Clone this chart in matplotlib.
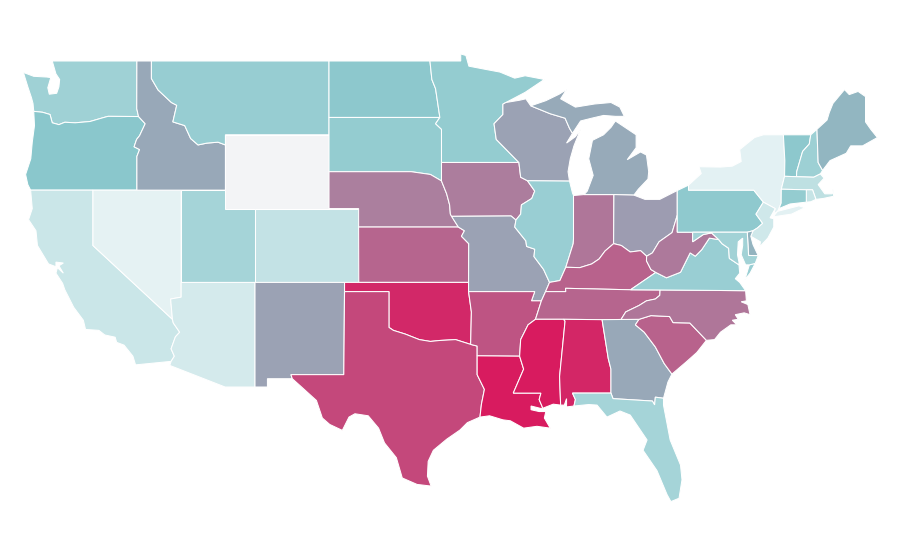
import matplotlib
matplotlib.use("Agg")
import matplotlib.pyplot as plt
from matplotlib.colors import LinearSegmentedColormap, Normalize

# state outlines as (lon, lat), rough hand traced
WA = [(-117.03,49),(-117.04,46.42),(-116.92,45.99),(-118.98,46.0),(-119.3,45.93),(-120.2,45.72),(-121.2,45.65),(-121.9,45.68),(-122.3,45.55),(-122.75,45.65),(-122.9,46.1),(-123.4,46.22),(-124.0,46.27),(-124.05,46.7),(-124.15,47.0),(-124.4,47.6),(-124.7,48.38),(-124.0,48.17),(-123.1,48.13),(-122.85,48.1),(-123.05,47.55),(-122.95,47.2),(-122.45,47.25),(-122.3,47.6),(-122.25,48.0),(-122.5,48.3),(-122.75,49)]
ID = [(-117.03,49),(-116.05,49),(-116.05,48.05),(-115.6,47.43),(-114.7,46.75),(-114.34,46.6),(-114.6,45.7),(-113.8,45.5),(-113.4,44.8),(-112.9,44.45),(-112.3,44.55),(-111.55,44.6),(-111.05,44.45),(-111.05,42),(-114.04,42),(-117.03,42),(-117.03,43.83),(-116.85,44.2),(-117.22,44.35),(-117.05,44.75),(-116.85,44.95),(-116.47,45.6),(-116.92,45.99),(-117.04,46.42)]
MT = [(-116.05,49),(-104.05,49),(-104.05,45),(-111.05,45),(-111.05,44.45),(-111.55,44.6),(-112.3,44.55),(-112.9,44.45),(-113.4,44.8),(-113.8,45.5),(-114.6,45.7),(-114.34,46.6),(-114.7,46.75),(-115.6,47.43),(-116.05,48.05)]
OR = [(-124.21,42),(-120,42),(-117.03,42),(-117.03,43.83),(-116.85,44.2),(-117.22,44.35),(-117.05,44.75),(-116.85,44.95),(-116.47,45.6),(-116.92,45.99),(-118.98,46.0),(-119.3,45.93),(-120.2,45.72),(-121.2,45.65),(-121.9,45.68),(-122.3,45.55),(-122.75,45.65),(-122.9,46.1),(-123.4,46.22),(-124.0,46.27),(-123.95,45.5),(-124.1,44.6),(-124.2,43.7),(-124.55,42.85),(-124.4,42.3)]
CA = [(-124.21,42),(-120,42),(-120,39),(-114.63,35.0),(-114.57,34.8),(-114.14,34.3),(-114.43,34.05),(-114.72,33.4),(-114.5,33.0),(-114.72,32.72),(-117.12,32.53),(-117.3,33.0),(-117.9,33.6),(-118.4,33.75),(-118.5,34.03),(-119.2,34.15),(-119.6,34.4),(-120.5,34.45),(-120.65,34.95),(-121.3,35.65),(-121.9,36.6),(-122.05,36.95),(-122.5,37.5),(-122.4,37.8),(-122.0,37.5),(-122.3,37.9),(-122.0,38.05),(-122.5,38.1),(-122.5,37.85),(-123.0,38.0),(-123.75,39.0),(-123.85,39.8),(-124.35,40.4),(-124.1,41.0)]
NV = [(-120,42),(-114.04,42),(-114.04,36.2),(-114.75,36.1),(-114.63,35.0),(-120,39)]
UT = [(-114.04,42),(-111.05,42),(-111.05,41),(-109.05,41),(-109.05,37),(-114.04,37)]
WY = [(-111.05,45),(-104.05,45),(-104.05,41),(-111.05,41)]
CO = [(-109.05,41),(-102.05,41),(-102.05,37),(-109.05,37)]
AZ = [(-114.04,37),(-109.05,37),(-109.05,31.33),(-111.07,31.33),(-114.81,32.5),(-114.72,32.72),(-114.5,33.0),(-114.72,33.4),(-114.43,34.05),(-114.14,34.3),(-114.57,34.8),(-114.63,35.0),(-114.75,36.1),(-114.04,36.2)]
NM = [(-109.05,37),(-103.0,37),(-103.05,32),(-106.62,32),(-106.53,31.78),(-108.21,31.78),(-108.21,31.33),(-109.05,31.33)]
ND = [(-104.05,49),(-97.23,49),(-97.1,48),(-96.85,47.5),(-96.56,45.94),(-104.05,45.94)]
SD = [(-104.05,45.94),(-96.56,45.94),(-96.85,45.6),(-96.45,45.3),(-96.45,42.5),(-97.2,42.85),(-98.5,43.0),(-104.05,43)]
NE = [(-104.05,43),(-98.5,43),(-97.2,42.85),(-96.45,42.5),(-96.1,41.8),(-95.9,41.2),(-95.85,40.7),(-95.31,40.0),(-102.05,40),(-102.05,41),(-104.05,41)]
KS = [(-102.05,40),(-95.31,40),(-94.9,39.8),(-95.1,39.5),(-94.61,39.1),(-94.62,37),(-102.04,37)]
OK = [(-103.0,37),(-94.62,37),(-94.62,36.5),(-94.43,35.4),(-94.48,33.64),(-95.5,33.9),(-96.6,33.85),(-97.2,33.8),(-97.95,33.9),(-98.9,34.2),(-99.7,34.4),(-100.0,34.56),(-100.0,36.5),(-103.0,36.5)]
TX = [(-103,36.5),(-100,36.5),(-100,34.56),(-99.7,34.4),(-98.9,34.2),(-97.95,33.9),(-97.2,33.8),(-96.6,33.85),(-95.5,33.9),(-94.48,33.64),(-94.04,33.55),(-94.04,32),(-93.55,31.2),(-93.75,30.4),(-93.85,29.7),(-94.7,29.4),(-95.2,29.0),(-96.1,28.5),(-97.0,27.9),(-97.35,27.3),(-97.4,26.5),(-97.15,25.96),(-98.1,26.05),(-99.1,26.4),(-99.5,27.5),(-100.3,28.3),(-100.7,29.1),(-101.4,29.77),(-102.3,29.88),(-102.7,29.7),(-103.15,28.98),(-104.0,29.3),(-104.5,29.65),(-104.9,30.6),(-106.0,31.4),(-106.53,31.78),(-106.62,32),(-103.05,32)]
MN = [(-97.23,49),(-95.15,49),(-95.15,49.38),(-94.8,49.3),(-94.6,48.72),(-93.5,48.55),(-92.5,48.4),(-91.5,48.07),(-90.8,48.2),(-89.5,48.0),(-90.8,47.3),(-92.1,46.75),(-92.3,46.66),(-92.3,46.1),(-92.9,45.6),(-92.75,44.75),(-91.22,43.5),(-96.45,43.5),(-96.45,45.3),(-96.85,45.6),(-96.56,45.94),(-96.85,47.5),(-97.1,48)]
WI = [(-92.1,46.75),(-91.2,46.87),(-90.75,46.95),(-90.42,46.57),(-89.1,46.14),(-88.1,45.9),(-87.8,45.35),(-87.6,45.08),(-88.0,44.55),(-87.4,44.9),(-87.05,45.3),(-87.5,44.4),(-87.75,43.7),(-87.9,43.0),(-87.8,42.49),(-90.64,42.51),(-91.1,42.7),(-91.22,43.5),(-92.75,44.75),(-92.9,45.6),(-92.3,46.1),(-92.3,46.66)]
IA = [(-96.45,43.5),(-91.22,43.5),(-91.1,42.7),(-90.64,42.51),(-90.15,41.95),(-90.35,41.55),(-91.05,41.2),(-91.1,40.7),(-91.42,40.38),(-91.75,40.6),(-95.77,40.58),(-95.85,40.7),(-95.9,41.2),(-96.1,41.8),(-96.45,42.5)]
MO = [(-95.77,40.58),(-91.75,40.6),(-91.42,40.38),(-91.5,40.0),(-90.75,39.25),(-90.7,38.95),(-90.15,38.8),(-90.2,38.4),(-89.55,37.7),(-89.15,37.0),(-89.42,36.5),(-89.7,36.0),(-90.37,36.0),(-90.15,36.5),(-94.62,36.5),(-94.62,37),(-94.61,39.1),(-95.1,39.5),(-94.9,39.8),(-95.31,40)]
AR = [(-94.62,36.5),(-90.15,36.5),(-90.37,36.0),(-89.7,36.0),(-90.1,35.0),(-90.6,34.7),(-91.1,33.9),(-91.17,33.0),(-94.04,33.02),(-94.04,33.55),(-94.48,33.64),(-94.43,35.4)]
LA = [(-94.04,33.02),(-91.17,33.0),(-90.9,32.3),(-91.6,31.0),(-89.73,31.0),(-89.85,30.65),(-89.6,30.18),(-89.75,30.17),(-90.4,30.3),(-90.4,30.1),(-89.85,30.0),(-89.4,30.0),(-89.5,29.65),(-89.1,29.1),(-90.0,29.2),(-90.9,29.1),(-91.8,29.5),(-92.3,29.55),(-93.2,29.77),(-93.85,29.7),(-93.75,30.4),(-93.55,31.2),(-94.04,32)]
MS = [(-90.1,35.0),(-88.2,35.0),(-88.1,34.9),(-88.47,31.9),(-88.4,30.35),(-88.9,30.4),(-89.6,30.18),(-89.85,30.65),(-89.73,31.0),(-91.6,31.0),(-90.9,32.3),(-91.17,33.0),(-91.1,33.9),(-90.6,34.7)]
AL = [(-88.2,35.0),(-85.6,34.98),(-85.18,32.87),(-85.0,32.3),(-85.0,31.0),(-87.6,31.0),(-87.4,30.65),(-87.5,30.3),(-88.0,30.25),(-88.0,30.7),(-88.15,30.35),(-88.4,30.35),(-88.47,31.9),(-88.1,34.9)]
FL = [(-87.6,31.0),(-85.0,31.0),(-84.86,30.7),(-82.2,30.57),(-82.05,30.36),(-82.0,30.78),(-81.45,30.72),(-81.45,30.35),(-81.0,28.46),(-80.3,27.1),(-80.2,26.3),(-80.4,25.3),(-80.95,25.12),(-81.21,25.5),(-81.89,26.8),(-82.83,27.9),(-82.56,28.46),(-83.7,29.81),(-84.39,30.03),(-85.27,29.7),(-85.94,30.35),(-86.5,30.38),(-87.5,30.3),(-87.4,30.65)]
GA = [(-85.6,34.98),(-83.1,35.0),(-83.35,34.7),(-82.75,34.3),(-82.0,33.5),(-81.4,32.6),(-80.88,32.03),(-81.15,31.6),(-81.45,30.72),(-82.0,30.78),(-82.05,30.36),(-82.2,30.57),(-84.86,30.7),(-85.0,31.0),(-85.0,32.3),(-85.18,32.87)]
SC = [(-83.1,35.0),(-82.3,35.2),(-81.04,35.15),(-80.8,34.82),(-79.67,34.8),(-78.55,33.86),(-79.2,33.2),(-79.9,32.7),(-80.88,32.03),(-81.4,32.6),(-82.0,33.5),(-82.75,34.3),(-83.35,34.7)]
NC = [(-84.32,34.99),(-83.1,35.0),(-82.3,35.2),(-81.04,35.15),(-80.8,34.82),(-79.67,34.8),(-78.55,33.86),(-78.0,33.9),(-77.6,34.3),(-76.9,34.7),(-76.5,34.7),(-76.8,34.95),(-76.4,35.0),(-76.6,35.25),(-76.0,35.35),(-75.6,35.25),(-75.75,35.8),(-76.2,35.95),(-75.85,36.0),(-75.9,36.55),(-81.68,36.59),(-81.7,36.3),(-82.0,36.1),(-82.6,36.0),(-83.1,35.75),(-84.0,35.4)]
VA = [(-83.68,36.6),(-81.68,36.59),(-75.9,36.55),(-76.3,37.0),(-76.6,37.2),(-76.3,37.5),(-76.35,37.95),(-77.0,38.3),(-77.05,38.85),(-77.5,39.1),(-77.72,39.32),(-78.35,39.4),(-78.87,38.77),(-79.3,38.42),(-79.65,38.6),(-80.3,37.55),(-81.25,37.25),(-81.97,37.54)]
VA_SHORE = [(-75.95,37.15),(-75.65,37.95),(-75.25,38.03),(-75.6,37.5)]
WV = [(-81.97,37.54),(-82.3,37.7),(-82.6,38.17),(-82.59,38.42),(-82.2,38.6),(-81.75,39.2),(-80.87,39.7),(-80.52,40.64),(-80.52,39.72),(-79.48,39.72),(-79.48,39.2),(-78.75,39.6),(-78.2,39.68),(-77.72,39.32),(-78.35,39.4),(-78.87,38.77),(-79.3,38.42),(-79.65,38.6),(-80.3,37.55),(-81.25,37.25)]
MD = [(-79.48,39.72),(-75.79,39.72),(-75.7,38.46),(-75.05,38.45),(-75.25,38.03),(-75.65,37.95),(-75.9,37.95),(-76.2,38.5),(-76.1,39.0),(-76.1,39.4),(-76.4,39.2),(-76.45,38.5),(-76.35,38.1),(-76.35,37.95),(-77.0,38.3),(-77.05,38.85),(-77.5,39.1),(-77.72,39.32),(-78.2,39.68),(-78.75,39.6),(-79.48,39.2)]
DE = [(-75.79,39.72),(-75.4,39.8),(-75.55,39.5),(-75.4,39.05),(-75.05,38.45),(-75.7,38.46)]
PA = [(-80.52,41.98),(-80.52,39.72),(-75.79,39.72),(-75.4,39.8),(-75.1,39.95),(-74.75,40.2),(-75.2,40.7),(-74.7,41.35),(-75.35,42.0),(-79.76,42.0),(-79.76,42.27)]
NY = [(-79.76,42.0),(-75.35,42.0),(-74.7,41.35),(-73.9,41.0),(-74.0,40.7),(-73.75,40.85),(-73.65,41.0),(-73.5,41.3),(-73.49,42.05),(-73.27,42.75),(-73.25,43.6),(-73.35,45.0),(-74.7,45.0),(-75.3,44.85),(-76.3,44.2),(-76.2,43.55),(-76.8,43.3),(-77.6,43.25),(-79.05,43.27),(-78.9,42.9),(-79.76,42.27)]
NY_ISLAND = [(-74.0,40.6),(-73.75,40.85),(-72.3,41.15),(-71.9,41.05),(-72.8,40.7),(-73.9,40.57)]
NJ = [(-74.7,41.35),(-75.2,40.7),(-74.75,40.2),(-75.1,39.95),(-75.4,39.8),(-75.55,39.5),(-74.9,39.2),(-74.95,38.93),(-74.4,39.4),(-74.0,40.0),(-74.0,40.45),(-74.25,40.5),(-73.9,41.0)]
CT = [(-73.49,42.05),(-71.8,42.02),(-71.8,41.35),(-72.9,41.25),(-73.65,41.0),(-73.5,41.3)]
RI = [(-71.8,42.02),(-71.38,42.02),(-71.15,41.5),(-71.5,41.37),(-71.8,41.35)]
MA = [(-73.49,42.05),(-73.27,42.75),(-71.3,42.7),(-70.85,42.88),(-70.6,42.65),(-71.0,42.3),(-70.55,41.8),(-70.05,41.8),(-70.0,42.05),(-69.95,41.67),(-70.65,41.55),(-71.15,41.5),(-71.38,42.02),(-71.8,42.02)]
VT = [(-73.35,45.0),(-71.5,45.0),(-71.6,44.5),(-72.05,44.1),(-72.45,43.0),(-72.46,42.73),(-73.27,42.75),(-73.25,43.6)]
NH = [(-71.5,45.0),(-71.08,45.3),(-71.0,43.5),(-70.7,43.07),(-70.85,42.88),(-71.3,42.7),(-72.46,42.73),(-72.45,43.0),(-72.05,44.1),(-71.6,44.5)]
ME = [(-71.08,45.3),(-70.4,45.8),(-70.25,46.2),(-70.0,46.7),(-69.22,47.45),(-68.9,47.18),(-68.3,47.35),(-67.8,47.07),(-67.8,45.7),(-67.45,45.3),(-67.0,44.85),(-68.0,44.4),(-68.8,44.4),(-69.1,44.0),(-70.2,43.6),(-70.7,43.07),(-71.0,43.5)]
MI = [(-86.82,41.76),(-84.8,41.76),(-83.45,41.73),(-83.15,42.05),(-82.5,42.6),(-82.45,43.0),(-82.6,43.9),(-83.0,44.07),(-83.9,43.65),(-83.3,44.3),(-83.3,45.0),(-84.7,45.75),(-85.0,45.4),(-85.5,45.0),(-86.25,44.7),(-86.5,43.7),(-86.2,42.8),(-86.6,41.95)]
MI_UPPER = [(-90.42,46.57),(-89.1,46.14),(-88.1,45.9),(-87.8,45.35),(-87.6,45.08),(-87.05,45.75),(-86.3,45.9),(-85.5,46.05),(-84.7,46.0),(-84.1,46.0),(-84.4,46.5),(-85.0,46.75),(-86.1,46.67),(-87.4,46.5),(-88.4,46.95),(-88.0,47.45),(-88.5,47.2),(-89.4,46.85)]
IN = [(-87.53,41.71),(-86.82,41.76),(-84.8,41.76),(-84.82,39.1),(-85.4,38.7),(-85.8,38.27),(-86.3,38.0),(-87.1,37.8),(-88.05,37.82),(-87.55,39.1),(-87.53,39.35)]
IL = [(-90.64,42.51),(-87.8,42.49),(-87.6,41.85),(-87.53,41.71),(-87.53,39.35),(-87.55,39.1),(-88.05,37.82),(-88.45,37.1),(-89.15,37.0),(-89.55,37.7),(-90.2,38.4),(-90.15,38.8),(-90.7,38.95),(-90.75,39.25),(-91.5,40.0),(-91.42,40.38),(-91.1,40.7),(-91.05,41.2),(-90.35,41.55),(-90.15,41.95)]
OH = [(-84.8,41.76),(-83.45,41.73),(-82.7,41.5),(-81.7,41.5),(-80.52,41.98),(-80.52,40.64),(-80.87,39.7),(-81.75,39.2),(-82.2,38.6),(-82.59,38.42),(-83.0,38.72),(-83.7,38.65),(-84.3,39.0),(-84.82,39.1)]
KY = [(-89.42,36.5),(-89.15,37.0),(-88.45,37.1),(-88.05,37.82),(-87.1,37.8),(-86.3,38.0),(-85.8,38.27),(-85.4,38.7),(-84.82,39.1),(-84.3,39.0),(-83.7,38.65),(-83.0,38.72),(-82.59,38.42),(-82.6,38.17),(-82.3,37.7),(-81.97,37.54),(-83.68,36.6),(-88.07,36.68),(-88.05,36.5)]
TN = [(-89.42,36.5),(-88.05,36.5),(-88.07,36.68),(-83.68,36.6),(-81.68,36.59),(-81.7,36.3),(-82.0,36.1),(-82.6,36.0),(-83.1,35.75),(-84.0,35.4),(-84.32,34.99),(-85.6,34.98),(-88.2,35.0),(-90.1,35.0),(-89.7,36.0)]

state_names = ["WA","OR","CA","NV","ID","MT","WY","UT","CO","AZ","NM","ND","SD","NE","KS","OK","TX",
               "MN","IA","MO","AR","LA","WI","IL","IN","MI","OH","KY","TN","MS","AL","GA","FL","SC",
               "NC","VA","WV","PA","NY","VT","NH","ME","MA","RI","CT","NJ","DE","MD"]
state_values = [32.4,40,16,5.8,51,35,0,29.7,18.7,11.8,53,39,36,65,74,95,84,
                36,66,53,80,100,53,34,68,50,55,75,74,100,96,51,30,75,
                68,34,67,38,6.5,39,33,46,20.6,17.5,36,13.8,47,31]
state_shapes = [[WA],[OR],[CA],[NV],[ID],[MT],[WY],[UT],[CO],[AZ],[NM],[ND],[SD],[NE],[KS],[OK],[TX],
                [MN],[IA],[MO],[AR],[LA],[WI],[IL],[IN],[MI,MI_UPPER],[OH],[KY],[TN],[MS],[AL],[GA],[FL],[SC],
                [NC],[VA,VA_SHORE],[WV],[PA],[NY,NY_ISLAND],[VT],[NH],[ME],[MA],[RI],[CT],[NJ],[DE],[MD]]

# pale grey -> pale teal -> teal at 40 -> crimson at 100
cmap = LinearSegmentedColormap.from_list("rate", [(0, "#f3f4f6"), (0.05, "#e6f3f4"), (0.4, "#8ac7cc"), (1, "#d81b5f")])
norm = Normalize(0, 100)

fig = plt.figure(figsize=(9, 5.6), dpi=100)
ax = fig.add_axes([0, 0, 1, 1])
ax.set_xlim(-126.28, -65.47)
ax.set_ylim(21.954, 52.306)
ax.axis("off")

for name, value, rings in zip(state_names, state_values, state_shapes):
    for ring in rings:
        lons = [p[0] for p in ring]
        lats = [p[1] for p in ring]
        ax.fill(lons, lats, facecolor=cmap(norm(value)), edgecolor="white", linewidth=0.75, label=name)

fig.savefig("out.png", dpi=100)
